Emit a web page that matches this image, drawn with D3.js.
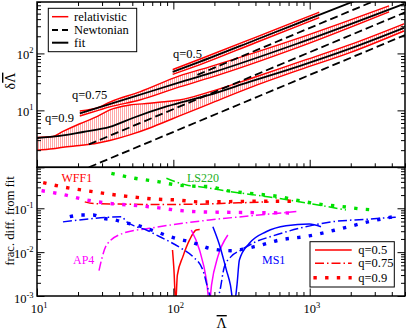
<!DOCTYPE html>
<html>
<head>
<meta charset="utf-8">
<script src="https://cdn.jsdelivr.net/npm/d3@7"></script>
<style>
  body { margin: 0; background: #fff; }
  svg { display: block; }
  text { font-family: "Liberation Serif", "DejaVu Serif", serif; }
</style>
</head>
<body>
<svg id="chart" width="409" height="331"></svg>
<script>
// ---------- top panel: relativistic bands, fits, Newtonian lines ----------
const bandLam09 = [10, 13.1, 15.5, 20.6, 27.5, 34.2, 47.9, 67.1, 86.3, 111, 184, 361, 840, 1950, 4920];
const bandLo09  = [2.0, 2.12, 2.25, 2.42, 2.64, 2.95, 3.7, 4.9, 6.25, 8.0, 13.0, 24.8, 51.3, 102, 248];
const bandHi09  = [3.34, 3.48, 4.26, 5.82, 7.75, 10.2, 12.4, 13.3, 14.2, 15.2, 21.1, 35.6, 70.8, 141, 332];
const fitLam09  = [10, 14.7, 21.7, 34.2, 50.4, 89.3, 184, 361, 840, 1950, 4920];
const fitVal09  = [3.27, 3.55, 4.17, 5.11, 7.35, 11.7, 18.7, 31.6, 60, 120, 281];

const bandLam075 = [20.6, 28.9, 34.2, 56.7, 111, 184, 840, 3821];
const bandLo075  = [7.97, 10.2, 11.5, 15.2, 25.8, 37.1, 130, 536];
const bandHi075  = [9.76, 11.5, 14.0, 21.1, 40.2, 57.9, 187, 684];
const fitLam075  = [20.6, 47.9, 111, 184, 840, 4920];
const fitVal075  = [8.89, 16.5, 31, 44.5, 153, 741];

const bandLam05 = [98.9, 155.6, 400, 800, 1175];
const bandLo05  = [43, 63, 154, 296, 425];
const bandHi05  = [52, 79, 192, 370, 530];
const fitLam05  = [98.9, 155.6, 400, 800, 1175, 2500];
const fitVal05  = [47.3, 70.9, 172, 331, 475, 967];

const newtLam05 = [150, 3000],  newtVal05 = [42, 840];
const newtLam075 = [24, 5000],  newtVal075 = [2.52, 525];
const newtLam09 = [24, 5000],   newtVal09 = [1.0, 210];

// ---------- bottom panel: fractional difference from fit ----------
const wffLam09 = [11.1, 16, 23.1, 33.2, 49.3, 73.1, 105, 156, 258, 428, 798];
const wffVal09 = [0.384, 0.301, 0.252, 0.212, 0.183, 0.162, 0.155, 0.14, 0.142, 0.145, 0.145];
const wffLam075 = [22.4, 26, 40, 80, 150, 300, 500];
const wffVal075 = [0.14, 0.128, 0.125, 0.122, 0.124, 0.133, 0.14];
const wffLam05 = [98.6, 101, 104, 107, 117.5, 131.5, 147, 156];
const wffVal05 = [0.0112, 0.004, 0.0007, 0.003, 0.0079, 0.019, 0.032, 0.033];

const ap4Lam09 = [10.8, 15.6, 23.1, 33.2, 49.3, 73.1, 108, 156, 361, 798];
const ap4Val09 = [0.252, 0.205, 0.155, 0.13, 0.118, 0.105, 0.09, 0.083, 0.08, 0.078];
const ap4Lam075 = [28.5, 29.7, 32.4, 42.8, 67, 117, 184, 361, 798];
const ap4Val075 = [0.0038, 0.0066, 0.0146, 0.0269, 0.035, 0.0455, 0.054, 0.067, 0.084];
const ap4Lam05 = [135.4, 155.6, 175, 184, 190.6, 212, 251];
const ap4Val05 = [0.032, 0.0112, 0.0023, 0.0007, 0.0018, 0.0079, 0.0246];

const ms1Lam09 = [17.4, 21.2, 25.8, 30.6, 37.3, 44, 53.5, 63.4, 75, 91.2, 108, 131.5, 156, 184, 264, 393, 600, 990, 1739, 2717, 4120];
const ms1Val09 = [0.0643, 0.0703, 0.0703, 0.0591, 0.0541, 0.047, 0.0416, 0.035, 0.0292, 0.0234, 0.0199, 0.0173, 0.0146, 0.0122, 0.0108, 0.0133, 0.0189, 0.0234, 0.035, 0.0494, 0.0643];
const ms1Lam075 = [15.5, 25, 35, 41.7, 45.3, 53.6, 63.4, 75, 94, 114.4, 139, 164.7, 179, 200, 218, 237, 265, 314, 404, 535, 840, 1472, 2582, 4278];
const ms1Val075 = [0.049, 0.058, 0.063, 0.0643, 0.0494, 0.038, 0.032, 0.0246, 0.0173, 0.0122, 0.0079, 0.0039, 0.0015, 0.0006, 0.0012, 0.0047, 0.0079, 0.0112, 0.0173, 0.0234, 0.035, 0.0494, 0.0561, 0.0627];
const ms1Lam05 = [195, 218, 245, 262, 278, 293, 305, 361, 479, 671, 993, 1210];
const ms1Val05 = [0.038, 0.0146, 0.0039, 0.0018, 0.0006, 0.0018, 0.0066, 0.0159, 0.0292, 0.040, 0.0438, 0.038];

const lsLam09 = [35.1, 52.1, 77.1, 105, 124.5, 190, 230, 281, 404, 600, 840, 1210, 1742, 2506, 3054];
const lsVal09 = [0.628, 0.483, 0.405, 0.34, 0.325, 0.311, 0.262, 0.24, 0.212, 0.184, 0.149, 0.123, 0.109, 0.095, 0.0915];
const lsLam075 = [88.9, 124.5, 155.6, 271.8, 506, 990, 1844];
const lsVal075 = [0.483, 0.34, 0.311, 0.236, 0.181, 0.129, 0.0915];

// ---------- layout ----------
const X0 = 37, X1 = 405, YT = 2, YM = 167.3, YB = 296;
const svg = d3.select("#chart");

const x = d3.scaleLog().domain([10, 5000]).range([X0, X1]);
const yTop = d3.scaleLog().domain([1, 800]).range([YM, YT]);
const yBot = d3.scaleLog().domain([0.001, 0.86]).range([YB, YM]);

const RED = "#ff0000", MAG = "#ff00ff", BLUE = "#0000ff", GREEN = "#00e000";
const DOTS = "3.4 8.3", DASHDOT = "9 3 1.5 3", DASHED = "8 4";

const defs = svg.append("defs");
defs.append("clipPath").attr("id", "clipTop").append("rect")
    .attr("x", X0).attr("y", YT).attr("width", X1 - X0).attr("height", YM - YT);
defs.append("clipPath").attr("id", "clipBot").append("rect")
    .attr("x", X0).attr("y", YM).attr("width", X1 - X0).attr("height", YB - YM);
const pat = defs.append("pattern").attr("id", "hatch")
    .attr("patternUnits", "userSpaceOnUse").attr("width", 2).attr("height", 4);
pat.append("rect").attr("width", 2).attr("height", 4).attr("fill", "#fff");
pat.append("rect").attr("width", 1).attr("height", 4).attr("fill", "#ffaaaa");

function zip(xs, ys) { return xs.map((v, i) => [v, ys[i]]); }

// ---------- top panel ----------
const gTop = svg.append("g").attr("clip-path", "url(#clipTop)");
const lineTop = d3.line().x(d => x(d[0])).y(d => yTop(d[1])).curve(d3.curveMonotoneX);

const bands = [
  {lam: bandLam09, lo: bandLo09, hi: bandHi09},
  {lam: bandLam075, lo: bandLo075, hi: bandHi075},
  {lam: bandLam05, lo: bandLo05, hi: bandHi05}
];

bands.forEach(b => {
  const area = d3.area()
      .x((d, i) => x(b.lam[i]))
      .y0((d, i) => yTop(b.lo[i]))
      .y1((d, i) => yTop(b.hi[i]))
      .curve(d3.curveMonotoneX);
  gTop.append("path").datum(b.lam).attr("d", area).attr("fill", "url(#hatch)");
});
bands.forEach(b => {
  [b.lo, b.hi].forEach(edge => {
    gTop.append("path").datum(zip(b.lam, edge)).attr("d", lineTop)
        .attr("fill", "none").attr("stroke", RED).attr("stroke-width", 1.4);
  });
});

[[newtLam05, newtVal05], [newtLam075, newtVal075], [newtLam09, newtVal09]].forEach(([l, v]) => {
  gTop.append("path").datum(zip(l, v)).attr("d", lineTop)
      .attr("fill", "none").attr("stroke", "#000").attr("stroke-width", 1.8)
      .attr("stroke-dasharray", DASHED);
});

[[fitLam05, fitVal05], [fitLam075, fitVal075], [fitLam09, fitVal09]].forEach(([l, v]) => {
  gTop.append("path").datum(zip(l, v)).attr("d", lineTop)
      .attr("fill", "none").attr("stroke", "#000").attr("stroke-width", 1.8);
});

// ---------- bottom panel ----------
const gBot = svg.append("g").attr("clip-path", "url(#clipBot)");
const lineBot = d3.line().x(d => x(d[0])).y(d => yBot(d[1])).curve(d3.curveMonotoneX);

const curves = [
  {l: lsLam075, v: lsVal075, c: GREEN, s: "dashdot"},
  {l: lsLam09, v: lsVal09, c: GREEN, s: "dots"},
  {l: wffLam075, v: wffVal075, c: RED, s: "dashdot"},
  {l: wffLam09, v: wffVal09, c: RED, s: "dots"},
  {l: wffLam05, v: wffVal05, c: RED, s: "solid"},
  {l: ap4Lam075, v: ap4Val075, c: MAG, s: "dashdot"},
  {l: ap4Lam09, v: ap4Val09, c: MAG, s: "dots"},
  {l: ap4Lam05, v: ap4Val05, c: MAG, s: "solid"},
  {l: ms1Lam075, v: ms1Val075, c: BLUE, s: "dashdot"},
  {l: ms1Lam09, v: ms1Val09, c: BLUE, s: "dots"},
  {l: ms1Lam05, v: ms1Val05, c: BLUE, s: "solid"}
];

function styleLine(sel, color, style) {
  sel.attr("fill", "none").attr("stroke", color);
  if (style === "dots") sel.attr("stroke-width", 3.4).attr("stroke-dasharray", DOTS);
  else if (style === "dashdot") sel.attr("stroke-width", 1.5).attr("stroke-dasharray", DASHDOT);
  else sel.attr("stroke-width", 1.5);
  return sel;
}

curves.forEach(cv => {
  styleLine(gBot.append("path").datum(zip(cv.l, cv.v)).attr("d", lineBot), cv.c, cv.s);
});

// ---------- ticks (inward) ----------
function isMajor(v) { const l = Math.log10(v); return Math.abs(l - Math.round(l)) < 1e-6; }

function edgeTicks(axisFn, scale, tx, ty) {
  const t = scale.ticks();
  [[t.filter(v => !isMajor(v)), 4], [t.filter(isMajor), 7.5]].forEach(([vals, len]) => {
    const g = svg.append("g").attr("transform", `translate(${tx},${ty})`)
        .call(axisFn(scale).tickValues(vals).tickSize(-len).tickFormat(""));
    g.select(".domain").remove();
    g.selectAll("line").attr("stroke", "#000").attr("stroke-width", 1);
  });
}
edgeTicks(d3.axisTop, x, 0, YT);
edgeTicks(d3.axisBottom, x, 0, YM);
edgeTicks(d3.axisBottom, x, 0, YB);
edgeTicks(d3.axisLeft, yTop, X0, 0);
edgeTicks(d3.axisRight, yTop, X1, 0);
edgeTicks(d3.axisLeft, yBot, X0, 0);
edgeTicks(d3.axisRight, yBot, X1, 0);

// frames
[[YT, YM], [YM, YB]].forEach(([a, b]) => {
  svg.append("rect").attr("x", X0).attr("y", a).attr("width", X1 - X0).attr("height", b - a)
      .attr("fill", "none").attr("stroke", "#000").attr("stroke-width", 1.5);
});

// ---------- tick labels ----------
function powLabel(px, py, exp, anchor) {
  const t = svg.append("text").attr("x", px).attr("y", py)
      .attr("font-size", 12.5).attr("text-anchor", anchor).attr("fill", "#000");
  t.append("tspan").text("10");
  t.append("tspan").attr("dy", -5.5).attr("font-size", 8.5).text(exp);
}
const xLabels = [10, 100, 1000];
const yTopLabels = [10, 100];
const yBotLabels = [0.1, 0.01, 0.001];
xLabels.forEach(v => powLabel(x(v) - 6.2, 313, String(Math.round(Math.log10(v))), "start"));
yTopLabels.forEach(v => powLabel(33.5, yTop(v) + 5.5, String(Math.round(Math.log10(v))), "end"));
yBotLabels.forEach(v => powLabel(33.5, yBot(v) + (v === 0.001 ? 7 : 5.5), String(Math.round(Math.log10(v))), "end"));

// ---------- axis titles ----------
const ttl1 = svg.append("text").attr("transform", "translate(15,81) rotate(-90)")
    .attr("text-anchor", "middle").attr("font-size", 14);
ttl1.append("tspan").text("δ");
ttl1.append("tspan").style("text-decoration", "overline").text("Λ");

svg.append("text").attr("transform", "translate(14,221) rotate(-90)")
    .attr("text-anchor", "middle").attr("font-size", 12.7).text("frac. diff. from fit");

svg.append("text").attr("x", 221.7).attr("y", 328).attr("text-anchor", "middle")
    .attr("font-size", 14).style("text-decoration", "overline").text("Λ");

// ---------- in-plot labels ----------
const qLabels = [["q=0.5", 173, 58], ["q=0.75", 72, 99], ["q=0.9", 45, 121.5]];
qLabels.forEach(([s, px, py]) => svg.append("text").attr("x", px).attr("y", py)
    .attr("font-size", 12.5).text(s));

const eosLabels = [["WFF1", 61.5, 181.5, RED], ["LS220", 187, 181.5, "#22b022"],
                   ["AP4", 73, 263.5, MAG], ["MS1", 262, 263.5, BLUE]];
eosLabels.forEach(([s, px, py, c]) => svg.append("text").attr("x", px).attr("y", py)
    .attr("font-size", 12).attr("fill", c).text(s));

// ---------- legends ----------
svg.append("rect").attr("x", 48.3).attr("y", 8.3).attr("width", 88.4).attr("height", 43.4)
    .attr("fill", "#fff").attr("stroke", "#000").attr("stroke-width", 1);
const topLeg = [["relativistic", RED, null, 1.5, 16.7], ["Newtonian", "#000", "6 4", 1.8, 30],
                ["fit", "#000", null, 2, 42.7]];
topLeg.forEach(([s, c, dash, w, py]) => {
  const l = svg.append("line").attr("x1", 52).attr("x2", 68.3).attr("y1", py).attr("y2", py)
      .attr("stroke", c).attr("stroke-width", w);
  if (dash) l.attr("stroke-dasharray", dash);
  svg.append("text").attr("x", 74).attr("y", py + 4).attr("font-size", 12.5).text(s);
});

svg.append("rect").attr("x", 310).attr("y", 241.7).attr("width", 84.3).attr("height", 45.3)
    .attr("fill", "#fff").attr("stroke", "#000").attr("stroke-width", 1);
const botLeg = [["q=0.5", "solid", 250], ["q=0.75", "dashdot", 263.3], ["q=0.9", "dots", 277.7]];
botLeg.forEach(([s, st, py]) => {
  styleLine(svg.append("path").attr("d", `M${st === "dots" ? 313.4 : 315},${py}H351.7`), RED, st);
  svg.append("text").attr("x", 358.3).attr("y", py + 4).attr("font-size", 12.5).text(s);
});
</script>
</body>
</html>
